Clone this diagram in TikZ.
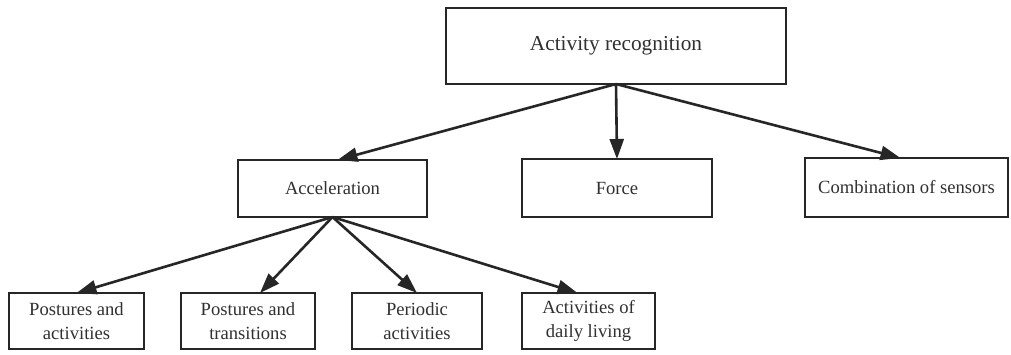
\documentclass[tikz,border=0pt]{standalone}
\usepackage{fontspec}
\setmainfont{Liberation Serif}
\usetikzlibrary{arrows.meta,calc}
\definecolor{ink}{HTML}{262626}
\definecolor{txt}{HTML}{303030}
\begin{document}
\begin{tikzpicture}[x=1pt,y=-1pt,
  box/.style={draw=ink,line width=2.6pt,rectangle,inner sep=0pt,outer sep=0pt,
    text=txt,align=center,font=\fontsize{18.6}{24.5}\selectfont},
  link/.style={draw=ink,line width=2.6pt,-{Triangle[length=20pt,width=14pt]}}]
  \useasboundingbox (0,0) rectangle (1011,354);
  % root
  \node[box,minimum width=340pt,minimum height=76pt,font=\fontsize{21.3}{25}\selectfont]
    (root) at (616,46) {Activity recognition};
  % sensor types
  \node[box,minimum width=189pt,minimum height=57pt] (acc) at (332.5,188.5) {Acceleration};
  \node[box,minimum width=190pt,minimum height=58pt] (force) at (617,188) {Force};
  \node[box,minimum width=203pt,minimum height=59pt] (comb) at (906.5,187.5) {Combination of sensors};
  % acceleration applications
  \node[box,minimum width=135pt,minimum height=56pt] (pa) at (76.5,321) {Postures and\\activities};
  \node[box,minimum width=134pt,minimum height=56pt] (pt) at (248,321) {Postures and\\transitions};
  \node[box,minimum width=130pt,minimum height=56pt] (pe) at (417,321) {Periodic\\activities};
  \node[box,minimum width=133pt,minimum height=56pt] (ad) at (588.5,321) {Activities of\\daily living};
  % branch points
  \coordinate (rootfork) at (root.south);
  \coordinate (accfork) at (acc.south);
  % connectors
  \draw[link] (rootfork) -- ($(acc.north)+(5,0)$);
  \draw[link] (rootfork) -- (force.north);
  \draw[link] (rootfork) -- ($(comb.north)+(-6,0)$);
  \draw[link] (accfork) -- (pa.north);
  \draw[link] (accfork) -- ($(pt.north)+(12,0)$);
  \draw[link] (accfork) -- (pe.north);
  \draw[link] (accfork) -- ($(ad.north)+(-11,0)$);
\end{tikzpicture}
\end{document}
